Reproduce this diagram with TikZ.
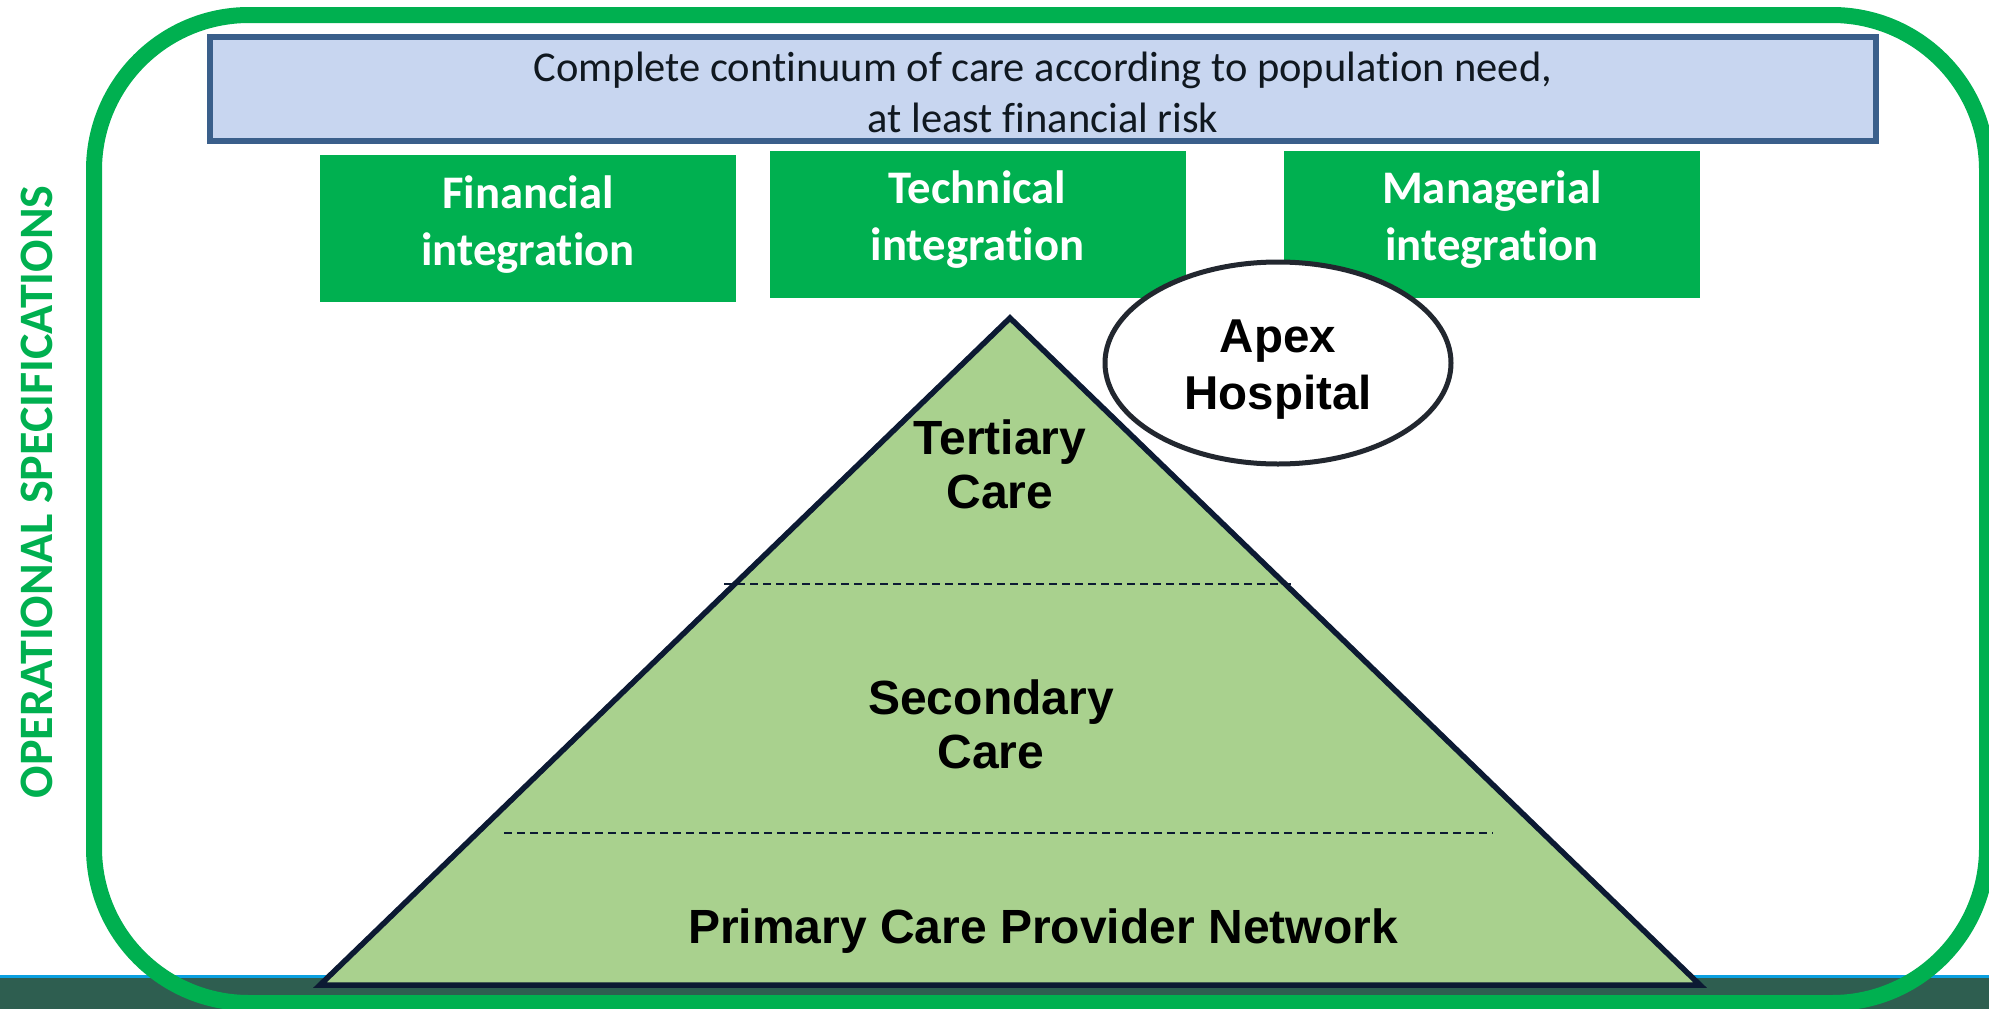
\documentclass[tikz,border=0pt]{standalone}
\usepackage{fontspec}
\setmainfont{Carlito}[Ligatures=NoCommon]
\newfontfamily\arialfont{Liberation Sans}
\usetikzlibrary{shapes.geometric}
\definecolor{opgreen}{HTML}{00B050}
\definecolor{slidebar}{HTML}{2E5E50}
\definecolor{slideline}{HTML}{0AA0E0}
\definecolor{goalfill}{HTML}{C8D6F0}
\definecolor{goaledge}{HTML}{3A5F8B}
\definecolor{tierfill}{HTML}{A9D18E}
\definecolor{tieredge}{HTML}{0C1A33}
\definecolor{hubedge}{HTML}{22272F}
\definecolor{goaltext}{HTML}{101820}

\begin{document}
\begin{tikzpicture}[x=1pt,y=-1pt,
	goal/.style={draw=goaledge,fill=goalfill,line width=6pt,minimum width=1666pt,minimum height=104pt,inner sep=0pt},
	goaltxt/.style={align=center,text=goaltext,font=\fontsize{42.5}{51}\selectfont},
	pillar/.style={fill=opgreen,text=white,minimum width=416pt,minimum height=147pt,inner sep=0pt,align=center,text depth=16pt,font=\fontsize{46.7}{57}\selectfont\bfseries},
	tier/.style={align=center,text=black,font=\arialfont\fontsize{48}{54}\selectfont\bfseries},
	hub/.style={ellipse,draw=hubedge,fill=white,line width=5pt,minimum width=346pt,minimum height=202pt,inner sep=0pt},
	hubtxt/.style={align=center,font=\arialfont\fontsize{47.5}{57}\selectfont\bfseries},
	tierline/.style={draw=tieredge,line width=1.4pt,dash pattern=on 8pt off 5pt}]
	\useasboundingbox (0,0) rectangle (1989,1009);
	\clip (0,0) rectangle (1989,1009);
	\fill[slidebar] (0,977) rectangle (1989,1009);
	\draw[slideline,line width=3pt] (0,976) -- (1989,976);
	\draw[opgreen,line width=16pt,rounded corners=155pt] (94,15) rectangle (1987,1003);
	\node[goal] (goal) at (1043,88.5) {};
	\node[goaltxt] (goaltext) at (1043,92) {Complete continuum of care according to population need,\\at least financial risk};
	\node[pillar] (fin) at (528,228.5) {Financial\\integration};
	\node[pillar] (tech) at (977.5,224) {Technical\\integration};
	\node[pillar] (mgmt) at (1492,224) {Managerial\\integration};
	\coordinate (apex) at (1010,318);
	\coordinate (baseL) at (320,985);
	\coordinate (baseR) at (1700,985);
	\filldraw[fill=tierfill,draw=tieredge,line width=5.5pt] (apex) -- (baseL) -- (baseR) -- cycle;
	\coordinate (tertL) at (724,584);
	\coordinate (tertR) at (1294,584);
	\coordinate (secL) at (504,833);
	\coordinate (secR) at (1493,833);
	\draw[tierline] (tertL) -- (tertR);
	\draw[tierline] (secL) -- (secR);
	\node[tier] (tertiary) at (1000,464) {Tertiary\\Care};
	\node[tier] (secondary) at (991,724) {Secondary\\Care};
	\node[tier] (primary) at (1043,931) {Primary Care Provider Network};
	\node[hub] (hospital) at (1278,363) {};
	\node[hubtxt] (hospitaltext) at (1278,370) {Apex\\Hospital};
	\node[rotate=90,text=opgreen,font=\fontsize{48}{48}\selectfont\bfseries] (spec) at (36.5,492) {OPERATIONAL SPECIFICATIONS};
\end{tikzpicture}
\end{document}
